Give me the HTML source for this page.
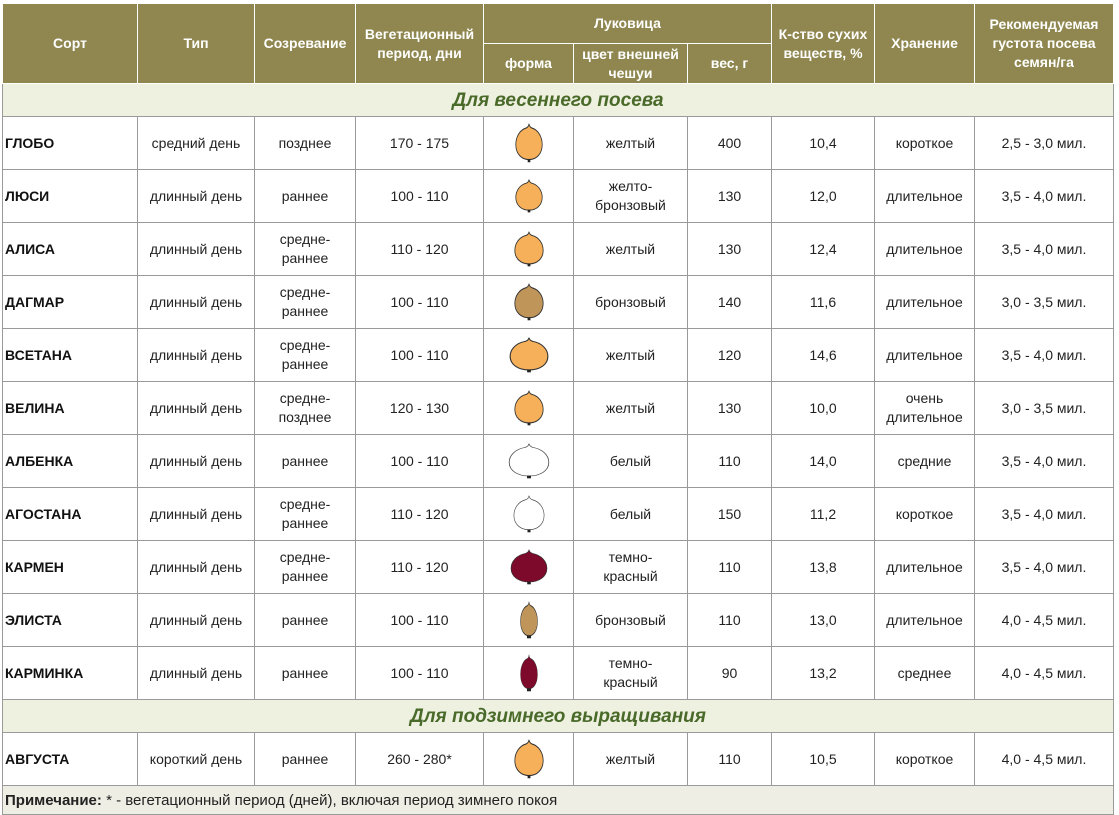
<!DOCTYPE html>
<html><head><meta charset="utf-8"><style>
body{margin:0;background:#fff;width:1119px;height:814px;overflow:hidden;font-family:"Liberation Sans",Arial,sans-serif}
table{position:absolute;left:2px;top:3px;border-collapse:collapse;table-layout:fixed;width:1112px}
td,th{border:1px solid #9a9a9a;font-size:14px;color:#222;text-align:center;vertical-align:middle;padding:0 2px;line-height:19px}
th{background:#8f874f;color:#fff;border-color:#fff;font-weight:bold;height:39px}
tr.r td{height:52px}
td.n{text-align:left;font-weight:bold;color:#111}
tr.s td{background:#eef0e0;height:32px;font-weight:bold;font-style:italic;color:#4a6a2a;font-size:19px}
tr.nt td{background:#efeee4;text-align:left;height:28px;font-size:15px}
svg{display:block;margin:0 auto}
</style></head><body>
<svg width="0" height="0" style="position:absolute"><defs>
<path id="on" d="M50,0 C51,6 54,9 60,11 C85,16 100,35 100,55 C100,80 78,95 50,95 C22,95 0,80 0,55 C0,35 15,16 40,11 C46,9 49,6 50,0Z"/>
</defs></svg>
<table>
<colgroup><col style="width:135px"><col style="width:117px"><col style="width:101px"><col style="width:128px"><col style="width:90px"><col style="width:114px"><col style="width:84px"><col style="width:103px"><col style="width:100px"><col style="width:139px"></colgroup>
<tr><th rowspan="2">Сорт</th><th rowspan="2">Тип</th><th rowspan="2">Созревание</th><th rowspan="2">Вегетационный период, дни</th><th colspan="3">Луковица</th><th rowspan="2">К-ство сухих веществ, %</th><th rowspan="2">Хранение</th><th rowspan="2">Рекомендуемая густота посева семян/га</th></tr>
<tr><th>форма</th><th>цвет внешней чешуи</th><th>вес, г</th></tr>
<tr class="s"><td colspan="10">Для весеннего посева</td></tr>
<tr class="r"><td class="n">ГЛОБО</td><td>средний день</td><td>позднее</td><td>170 - 175</td><td><svg width="28" height="40" viewBox="-3 -2 106 106" preserveAspectRatio="none"><use href="#on" fill="#f6b05a" stroke="#333" stroke-width="3"/><rect x="45" y="94" width="10" height="8" fill="#222"/></svg></td><td>желтый</td><td>400</td><td>10,4</td><td>короткое</td><td>2,5 - 3,0 мил.</td></tr>
<tr class="r"><td class="n">ЛЮСИ</td><td>длинный день</td><td>раннее</td><td>100 - 110</td><td><svg width="28" height="34" viewBox="-3 -2 106 106" preserveAspectRatio="none"><use href="#on" fill="#f6b05a" stroke="#333" stroke-width="3"/><rect x="45" y="94" width="10" height="8" fill="#222"/></svg></td><td>желто-<br>бронзовый</td><td>130</td><td>12,0</td><td>длительное</td><td>3,5 - 4,0 мил.</td></tr>
<tr class="r"><td class="n">АЛИСА</td><td>длинный день</td><td>средне-<br>раннее</td><td>110 - 120</td><td><svg width="30" height="36" viewBox="-3 -2 106 106" preserveAspectRatio="none"><use href="#on" fill="#f6b05a" stroke="#333" stroke-width="3"/><rect x="45" y="94" width="10" height="8" fill="#222"/></svg></td><td>желтый</td><td>130</td><td>12,4</td><td>длительное</td><td>3,5 - 4,0 мил.</td></tr>
<tr class="r"><td class="n">ДАГМАР</td><td>длинный день</td><td>средне-<br>раннее</td><td>100 - 110</td><td><svg width="30" height="38" viewBox="-3 -2 106 106" preserveAspectRatio="none"><use href="#on" fill="#c0955a" stroke="#333" stroke-width="3"/><rect x="45" y="94" width="10" height="8" fill="#222"/></svg></td><td>бронзовый</td><td>140</td><td>11,6</td><td>длительное</td><td>3,0 - 3,5 мил.</td></tr>
<tr class="r"><td class="n">ВСЕТАНА</td><td>длинный день</td><td>средне-<br>раннее</td><td>100 - 110</td><td><svg width="40" height="36" viewBox="-3 -2 106 106" preserveAspectRatio="none"><use href="#on" fill="#f6b05a" stroke="#333" stroke-width="3"/><rect x="45" y="94" width="10" height="8" fill="#222"/></svg></td><td>желтый</td><td>120</td><td>14,6</td><td>длительное</td><td>3,5 - 4,0 мил.</td></tr>
<tr class="r"><td class="n">ВЕЛИНА</td><td>длинный день</td><td>средне-<br>позднее</td><td>120 - 130</td><td><svg width="30" height="36" viewBox="-3 -2 106 106" preserveAspectRatio="none"><use href="#on" fill="#f6b05a" stroke="#333" stroke-width="3"/><rect x="45" y="94" width="10" height="8" fill="#222"/></svg></td><td>желтый</td><td>130</td><td>10,0</td><td>очень<br>длительное</td><td>3,0 - 3,5 мил.</td></tr>
<tr class="r"><td class="n">АЛБЕНКА</td><td>длинный день</td><td>раннее</td><td>100 - 110</td><td><svg width="42" height="36" viewBox="-3 -2 106 106" preserveAspectRatio="none"><use href="#on" fill="#fff" stroke="#444" stroke-width="2"/><rect x="45" y="94" width="10" height="8" fill="#222"/></svg></td><td>белый</td><td>110</td><td>14,0</td><td>средние</td><td>3,5 - 4,0 мил.</td></tr>
<tr class="r"><td class="n">АГОСТАНА</td><td>длинный день</td><td>средне-<br>раннее</td><td>110 - 120</td><td><svg width="32" height="38" viewBox="-3 -2 106 106" preserveAspectRatio="none"><use href="#on" fill="#fff" stroke="#444" stroke-width="2"/><rect x="45" y="94" width="10" height="8" fill="#222"/></svg></td><td>белый</td><td>150</td><td>11,2</td><td>короткое</td><td>3,5 - 4,0 мил.</td></tr>
<tr class="r"><td class="n">КАРМЕН</td><td>длинный день</td><td>средне-<br>раннее</td><td>110 - 120</td><td><svg width="38" height="36" viewBox="-3 -2 106 106" preserveAspectRatio="none"><use href="#on" fill="#7d0a2a" stroke="#333" stroke-width="2"/><rect x="45" y="94" width="10" height="8" fill="#222"/></svg></td><td>темно-<br>красный</td><td>110</td><td>13,8</td><td>длительное</td><td>3,5 - 4,0 мил.</td></tr>
<tr class="r"><td class="n">ЭЛИСТА</td><td>длинный день</td><td>раннее</td><td>100 - 110</td><td><svg width="18" height="38" viewBox="-3 -2 106 106" preserveAspectRatio="none"><use href="#on" fill="#c0955a" stroke="#333" stroke-width="3"/><rect x="38" y="94" width="24" height="8" fill="#222"/></svg></td><td>бронзовый</td><td>110</td><td>13,0</td><td>длительное</td><td>4,0 - 4,5 мил.</td></tr>
<tr class="r"><td class="n">КАРМИНКА</td><td>длинный день</td><td>раннее</td><td>100 - 110</td><td><svg width="18" height="38" viewBox="-3 -2 106 106" preserveAspectRatio="none"><use href="#on" fill="#7d0a2a" stroke="#333" stroke-width="2"/><rect x="38" y="94" width="24" height="8" fill="#222"/></svg></td><td>темно-<br>красный</td><td>90</td><td>13,2</td><td>среднее</td><td>4,0 - 4,5 мил.</td></tr>
<tr class="s"><td colspan="10">Для подзимнего выращивания</td></tr>
<tr class="r"><td class="n">АВГУСТА</td><td>короткий день</td><td>раннее</td><td>260 - 280*</td><td><svg width="30" height="40" viewBox="-3 -2 106 106" preserveAspectRatio="none"><use href="#on" fill="#f6b05a" stroke="#333" stroke-width="3"/><rect x="45" y="94" width="10" height="8" fill="#222"/></svg></td><td>желтый</td><td>110</td><td>10,5</td><td>короткое</td><td>4,0 - 4,5 мил.</td></tr>
<tr class="nt"><td colspan="10"><b>Примечание:</b> * - вегетационный период (дней), включая период зимнего покоя</td></tr>
</table>
</body></html>
